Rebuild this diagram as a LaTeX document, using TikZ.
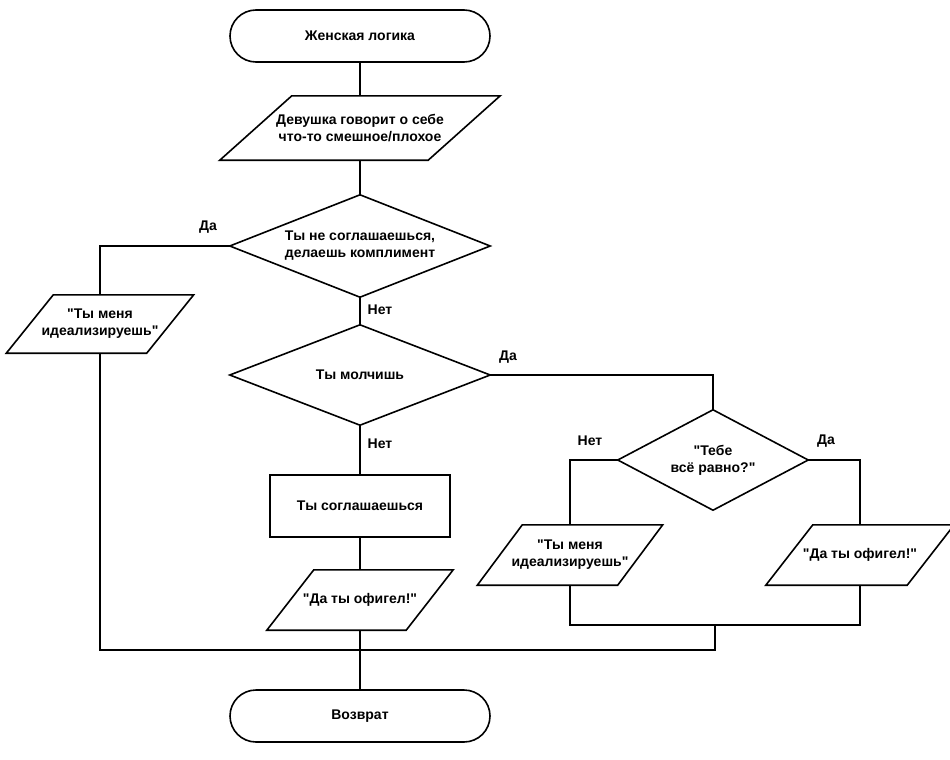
\documentclass[tikz,border=0pt]{standalone}
\usepackage{fontspec}
\setmainfont{Liberation Sans}

\tikzset{
  line/.style={line width=1.6pt, black},
  term/.style={line, draw, rounded corners=26pt, minimum width=260pt, minimum height=52pt, align=center},
  proc/.style={line, draw, minimum width=180pt, minimum height=62pt, align=center},
  cond/.style={inner sep=0pt, align=center},
  iobox/.style={minimum height=60pt, align=center}
}
% outline of a parallelogram round node #1, slant #2
\newcommand{\ioframe}[2]{%
  \draw[line] ([xshift=#2pt]#1.north west) -- (#1.north east)
    -- ([xshift=-#2pt]#1.south east) -- (#1.south west) -- cycle;}
% outline of a diamond round node #1
\newcommand{\condframe}[1]{%
  \draw[line] (#1.north) -- (#1.east) -- (#1.south) -- (#1.west) -- cycle;}
\newcommand{\q}{\textquotedbl}

\begin{document}
\begin{tikzpicture}[x=1pt, y=-1pt, font=\fontsize{14}{17}\selectfont\bfseries]
    \useasboundingbox (0,0) rectangle (950,760);

    \node[term] (start) at (360,36) {Женская логика};
    \node[iobox, minimum width=280pt, minimum height=64pt] (girl) at (360,128) {Девушка говорит о себе\\что-то смешное/плохое};
    \ioframe{girl}{72}
    \node[cond, minimum width=260pt, minimum height=102pt] (argue) at (360,246) {Ты не соглашаешься,\\делаешь комплимент};
    \condframe{argue}
    \node[iobox, minimum width=187pt, minimum height=58pt] (ideal1) at (100,324) {\q Ты меня\\идеализируешь\q};
    \ioframe{ideal1}{47}
    \node[cond, minimum width=260pt, minimum height=100pt] (silent) at (360,375) {Ты молчишь};
    \condframe{silent}
    \node[proc] (agree) at (360,506) {Ты соглашаешься};
    \node[iobox, minimum width=186pt] (crazy1) at (360,600) {\q Да ты офигел!\q};
    \ioframe{crazy1}{47}
    \node[cond, minimum width=190pt, minimum height=100pt] (care) at (713,460) {\q Тебе\\всё равно?\q};
    \condframe{care}
    \node[iobox, minimum width=185pt] (ideal2) at (570,555) {\q Ты меня\\идеализируешь\q};
    \ioframe{ideal2}{45}
    \node[iobox, minimum width=188pt] (crazy2) at (860,555) {\q Да ты офигел!\q};
    \ioframe{crazy2}{47}
    \node[term] (stop) at (360,716) {Возврат};

    \coordinate (join) at (360,650);
    \coordinate (rjoin) at (715,625);

    \draw[line] (start) -- (girl);
    \draw[line] (girl) -- (argue.north);
    \draw[line] (argue.west) -| (ideal1.north);
    \draw[line] (ideal1.south) |- (join);
    \draw[line] (argue.south) -- (silent.north);
    \draw[line] (silent.south) -- (agree);
    \draw[line] (agree) -- (crazy1);
    \draw[line] (crazy1) -- (stop);
    \draw[line] (silent.east) -| (care.north);
    \draw[line] (care.west) -| (ideal2.north);
    \draw[line] (care.east) -| (crazy2.north);
    \draw[line] (ideal2.south) |- (rjoin) -| (crazy2.south);
    \draw[line] (rjoin) |- (join);

    \node (yes1) at (208,227) {Да};
    \node (no1) at (380,310) {Нет};
    \node (yes2) at (508,357) {Да};
    \node (no2) at (380,444) {Нет};
    \node (no3) at (590,441) {Нет};
    \node (yes3) at (826,441) {Да};
\end{tikzpicture}
\end{document}
